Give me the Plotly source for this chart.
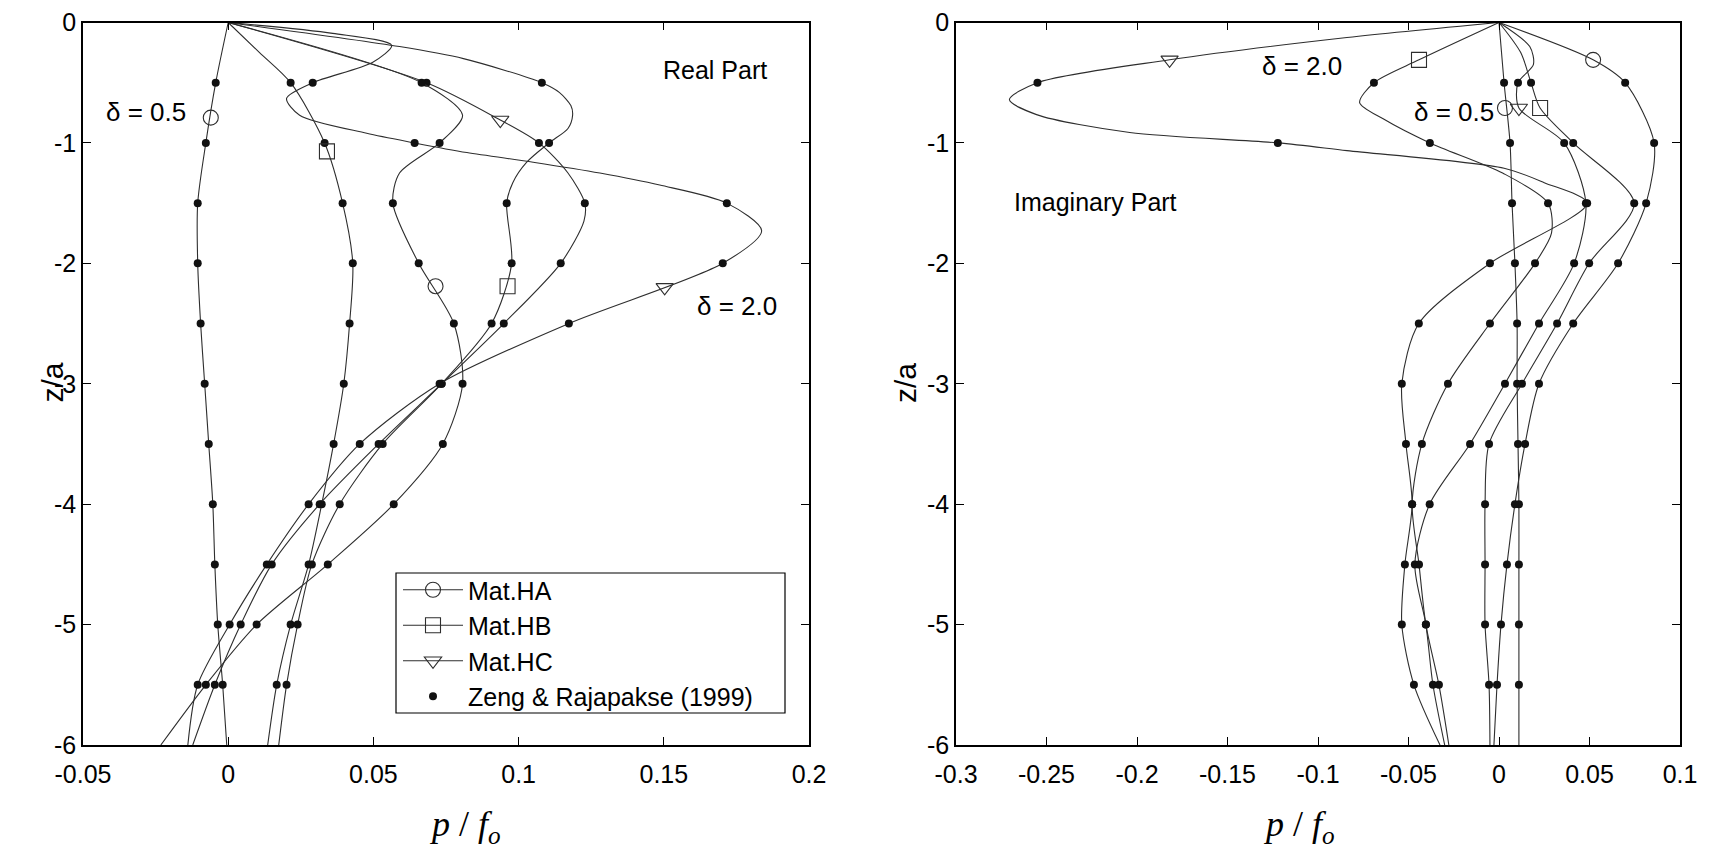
import plotly.graph_objects as go

INK = "#2e2e2e"
FONT = "Liberation Sans, Arial, sans-serif"

# depths (z/a) of the Zeng & Rajapakse (1999) values
zeng_z = [-0.5, -1.0, -1.5, -2.0, -2.5, -3.0, -3.5, -4.0, -4.5, -5.0, -5.5]

# ---------------- Real part: points (z/a, p/f_o) along each curve ----------------
re_ha05_z = [0, -0.5, -1.0, -1.5, -2.0, -2.5, -3.0, -3.5, -4.0, -4.5, -5.0, -5.5, -6.0]
re_ha05_x = [0, -0.0043, -0.0077, -0.0105, -0.0105, -0.0095, -0.0081, -0.0067, -0.0053, -0.0046, -0.0036, -0.0019, -0.0005]

re_hb05_z = [0, -0.25, -0.5, -1.0, -1.5, -2.0, -2.5, -3.0, -3.5, -4.0, -4.5, -5.0, -5.5, -6.0]
re_hb05_x = [0, 0.0108, 0.0215, 0.0332, 0.0394, 0.0429, 0.0418, 0.0398, 0.0363, 0.0322, 0.0277, 0.0215, 0.0167, 0.0136]

re_hc05_z = [0, -0.5, -0.81, -1.0, -1.25, -1.5, -1.65, -2.0, -2.5, -3.0, -3.5, -4.0, -4.5, -5.0, -5.5, -6.0]
re_hc05_x = [0, 0.0683, 0.0937, 0.107, 0.117, 0.1228, 0.1225, 0.1145, 0.0949, 0.0735, 0.0518, 0.0315, 0.015, 0.0043, -0.0046, -0.0122]

re_ha20_z = [0, -0.5, -0.77, -1.0, -1.25, -1.5, -2.0, -2.5, -3.0, -3.5, -4.0, -4.5, -5.0, -5.5, -6.0]
re_ha20_x = [0, 0.0666, 0.0807, 0.0728, 0.059, 0.0567, 0.0656, 0.0777, 0.0807, 0.0739, 0.057, 0.0343, 0.0098, -0.0077, -0.0232]

re_hb20_z = [0, -0.2, -0.3, -0.5, -0.58, -0.69, -0.77, -0.88, -1.0, -1.16, -1.33, -1.5, -2.0, -2.5, -3.0, -3.5, -4.0, -4.5, -5.0, -5.5, -6.0]
re_hb20_x = [0, 0.059, 0.081, 0.108, 0.114, 0.118, 0.1186, 0.117, 0.1105, 0.1028, 0.098, 0.0959, 0.0976, 0.0907, 0.0735, 0.0532, 0.0384, 0.0288, 0.0239, 0.0201, 0.0174]

re_hc20_z = [0, -0.09, -0.19, -0.33, -0.5, -0.63, -0.77, -0.92, -1.0, -1.08, -1.16, -1.25, -1.35, -1.5, -1.73, -2.0, -2.5, -3.0, -3.5, -4.0, -4.5, -5.0, -5.5, -6.0]
re_hc20_x = [0, 0.036, 0.0563, 0.0498, 0.0291, 0.0201, 0.0246, 0.0477, 0.0642, 0.0822, 0.105, 0.128, 0.1486, 0.1717, 0.1837, 0.1703, 0.1173, 0.0728, 0.0453, 0.0277, 0.0133, 0.0005, -0.0105, -0.0139]

# ---------------- Imaginary part ----------------
im_ha05_z = [0, -0.5, -1.0, -1.5, -2.0, -2.5, -3.0, -3.5, -4.0, -4.5, -5.0, -5.5, -6.0]
im_ha05_x = [0, 0.0028, 0.0061, 0.0072, 0.0088, 0.010, 0.010, 0.0105, 0.011, 0.011, 0.011, 0.011, 0.011]

im_hb05_z = [0, -0.25, -0.5, -0.71, -1.0, -1.5, -2.0, -2.5, -3.0, -3.5, -4.0, -4.5, -5.0, -5.5, -6.0]
im_hb05_x = [0, 0.012, 0.0177, 0.0227, 0.041, 0.0747, 0.0498, 0.0321, 0.0127, -0.0055, -0.0077, -0.0077, -0.0077, -0.0055, -0.005]

im_hc05_z = [0, -0.2, -0.35, -0.5, -0.71, -1.0, -1.5, -2.0, -2.5, -3.0, -3.5, -4.0, -4.5, -5.0, -5.5, -6.0]
im_hc05_x = [0, 0.017, 0.019, 0.0105, 0.011, 0.036, 0.048, 0.0415, 0.0221, 0.0033, -0.016, -0.0383, -0.0465, -0.0404, -0.0365, -0.030]

im_ha20_z = [0, -0.31, -0.5, -1.0, -1.5, -2.0, -2.5, -3.0, -3.5, -4.0, -4.5, -5.0, -5.5, -6.0]
im_ha20_x = [0, 0.052, 0.0697, 0.0857, 0.0813, 0.0658, 0.041, 0.0221, 0.0144, 0.0088, 0.0044, 0.0011, -0.0011, -0.0028]

im_hb20_z = [0, -0.31, -0.5, -0.665, -0.8, -1.0, -1.25, -1.5, -1.75, -2.0, -2.5, -3.0, -3.5, -4.0, -4.5, -5.0, -5.5, -6.0]
im_hb20_x = [0, -0.0442, -0.0691, -0.077, -0.064, -0.0382, 0.002, 0.0271, 0.029, 0.0199, -0.005, -0.0282, -0.0426, -0.048, -0.0442, -0.0404, -0.0332, -0.0277]

im_hc20_z = [0, -0.125, -0.31, -0.5, -0.64, -0.765, -0.914, -1.0, -1.064, -1.21, -1.33, -1.5, -2.0, -2.5, -3.0, -3.5, -4.0, -4.5, -5.0, -5.5, -6.0]
im_hc20_x = [0, -0.084, -0.182, -0.255, -0.2705, -0.2555, -0.204, -0.1222, -0.084, 0.0028, 0.025, 0.0487, -0.005, -0.0443, -0.0537, -0.0514, -0.048, -0.052, -0.0537, -0.047, -0.0326]

# open symbols marking each curve: (z/a, p/f_o)
re_marks = {"ha05": (-0.79, -0.006), "hb05": (-1.07, 0.034), "hc05": (-0.81, 0.0937),
            "ha20": (-2.19, 0.0714), "hb20": (-2.19, 0.0962), "hc20": (-2.2, 0.1503)}
im_marks = {"ha05": (-0.71, 0.0033), "hb05": (-0.71, 0.0227), "hc05": (-0.71, 0.011),
            "ha20": (-0.31, 0.052), "hb20": (-0.31, -0.0442), "hc20": (-0.31, -0.182)}

symbols = {"ha": "circle-open", "hb": "square-open", "hc": "triangle-down-open"}

real_curves = {"ha05": (re_ha05_z, re_ha05_x), "hb05": (re_hb05_z, re_hb05_x), "hc05": (re_hc05_z, re_hc05_x),
               "ha20": (re_ha20_z, re_ha20_x), "hb20": (re_hb20_z, re_hb20_x), "hc20": (re_hc20_z, re_hc20_x)}
imag_curves = {"ha05": (im_ha05_z, im_ha05_x), "hb05": (im_hb05_z, im_hb05_x), "hc05": (im_hc05_z, im_hc05_x),
               "ha20": (im_ha20_z, im_ha20_x), "hb20": (im_hb20_z, im_hb20_x), "hc20": (im_hc20_z, im_hc20_x)}

x_ticks_re = [-0.05, 0, 0.05, 0.1, 0.15, 0.2]
x_text_re = ["-0.05", "0", "0.05", "0.1", "0.15", "0.2"]
x_ticks_im = [-0.3, -0.25, -0.2, -0.15, -0.1, -0.05, 0, 0.05, 0.1]
x_text_im = ["-0.3", "-0.25", "-0.2", "-0.15", "-0.1", "-0.05", "0", "0.05", "0.1"]
y_ticks = [0, -1, -2, -3, -4, -5, -6]
y_text = ["0", "-1", "-2", "-3", "-4", "-5", "-6"]

fig = go.Figure()

def add_panel(curves, marks, xa, ya):
    for key, (zs, xs) in curves.items():
        fig.add_trace(go.Scatter(x=xs, y=zs, mode="lines", xaxis=xa, yaxis=ya,
                                 line=dict(color=INK, width=1.1, shape="spline", smoothing=0.8),
                                 showlegend=False, hoverinfo="skip"))
        dz = [z for z in zs if z in zeng_z]
        dx = [x for z, x in zip(zs, xs) if z in zeng_z]
        fig.add_trace(go.Scatter(x=dx, y=dz, mode="markers", xaxis=xa, yaxis=ya,
                                 marker=dict(symbol="circle", size=8, color="#111111"),
                                 showlegend=False, hoverinfo="skip"))
        mz, mx = marks[key]
        fig.add_trace(go.Scatter(x=[mx], y=[mz], mode="markers", xaxis=xa, yaxis=ya,
                                 marker=dict(symbol=symbols[key[:2]], size=15, color=INK,
                                             line=dict(width=1.1, color=INK)),
                                 showlegend=False, hoverinfo="skip"))

add_panel(real_curves, re_marks, "x", "y")
add_panel(imag_curves, im_marks, "x2", "y2")

# legend entries
for name, sym in [("Mat.HA", "circle-open"), ("Mat.HB", "square-open"), ("Mat.HC", "triangle-down-open")]:
    fig.add_trace(go.Scatter(x=[None], y=[None], mode="lines+markers", name=name,
                             line=dict(color=INK, width=1.1),
                             marker=dict(symbol=sym, size=15, color=INK, line=dict(width=1.1, color=INK))))
fig.add_trace(go.Scatter(x=[None], y=[None], mode="markers", name="Zeng & Rajapakse (1999)",
                         marker=dict(symbol="circle", size=8, color="#111111")))

axis_common = dict(showline=True, linecolor="black", linewidth=1.5, mirror="ticks", ticks="inside",
                   ticklen=8, tickwidth=1.2, tickcolor="black", showgrid=False, zeroline=False,
                   automargin=False, tickfont=dict(family=FONT, size=25, color="black"))

fig.update_layout(
    template=None,
    width=1715, height=858, margin=dict(l=0, r=0, t=0, b=0, autoexpand=False),
    paper_bgcolor="white", plot_bgcolor="white",
    xaxis=dict(domain=[83 / 1715, 809 / 1715], range=[-0.05, 0.2], tickvals=x_ticks_re, ticktext=x_text_re,
               anchor="y", ticklabelstandoff=6, **axis_common),
    yaxis=dict(domain=[1 - 745 / 858, 1 - 22.5 / 858], range=[-6, 0], tickvals=y_ticks, ticktext=y_text,
               anchor="x", **axis_common),
    xaxis2=dict(domain=[956 / 1715, 1680 / 1715], range=[-0.3, 0.1], tickvals=x_ticks_im, ticktext=x_text_im,
                anchor="y2", ticklabelstandoff=6, **axis_common),
    yaxis2=dict(domain=[1 - 745 / 858, 1 - 22.5 / 858], range=[-6, 0], tickvals=y_ticks, ticktext=y_text,
                anchor="x2", **axis_common),
    legend=dict(x=398 / 1715, y=1 - 567 / 858, xanchor="left", yanchor="top",
                bgcolor="rgba(0,0,0,0)", borderwidth=0,
                font=dict(family=FONT, size=25, color="black"), itemwidth=60, tracegroupgap=0),
    showlegend=True,
)

# legend frame
fig.add_shape(type="rect", xref="paper", yref="paper", x0=396 / 1715, x1=785 / 1715,
              y0=1 - 713 / 858, y1=1 - 573 / 858, line=dict(color="black", width=1.2),
              fillcolor="white", layer="below")

def note(text, x, y, xref, yref, size=25, **kw):
    fig.add_annotation(text=text, x=x, y=y, xref=xref, yref=yref, showarrow=False,
                       font=dict(family=FONT, size=size, color="black"), **kw)

note("Real Part", 0.1675, -0.395, "x", "y")
note("δ = 0.5", -0.0284, -0.743, "x", "y", size=26)
note("δ = 2.0", 0.1751, -2.355, "x", "y", size=26)
note("Imaginary Part", -0.2229, -1.49, "x2", "y2")
note("δ = 2.0", -0.109, -0.361, "x2", "y2", size=26)
note("δ = 0.5", -0.0249, -0.743, "x2", "y2", size=26)

# axis titles
note("z/a", 34 / 1715, 1 - 383 / 858, "paper", "paper", size=30, textangle=-90)
note("z/a", 906 / 1715, 1 - 383 / 858, "paper", "paper", size=30, textangle=-90)
title_x = "<i>p</i> / <i>f</i><sub><i>o</i></sub>"
for cx in (427, 1337):
    fig.add_annotation(text=title_x, x=cx / 1715, y=1 - 851 / 858, xref="paper", yref="paper",
                       showarrow=False, font=dict(family="Liberation Serif, Times New Roman, serif",
                                                  size=36, color="black"))

fig.write_html("out.html")
